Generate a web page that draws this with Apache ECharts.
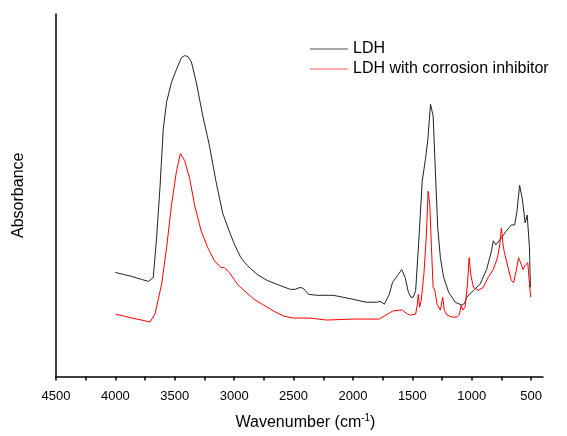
<!DOCTYPE html>
<html>
<head>
<meta charset="utf-8">
<script src="https://cdn.jsdelivr.net/npm/echarts@6/dist/echarts.min.js"></script>
<style>
html,body{margin:0;padding:0;background:#fff;}
#chart{width:567px;height:436px;}
</style>
</head>
<body>
<div id="chart"></div>
<script>
// Series names
const seriesNames = ['LDH', 'LDH with corrosion inhibitor'];

// LDH spectrum (wavenumber, absorbance a.u.)
const ldhWavenumbers = [4000,3930,3861,3780,3722,3708,3681,3653,3625,3597,3569,3528,3486,3444,3417,3389,3361,3319,3264,3208,3153,3097,3042,3000,2944,2889,2806,2722,2639,2528,2486,2444,2420,2403,2375,2306,2167,2083,2000,1889,1792,1772,1736,1694,1667,1625,1589,1561,1533,1511,1492,1472,1444,1417,1389,1369,1347,1325,1306,1286,1264,1236,1194,1139,1083,1060,1042,986,931,875,833,819,797,750,708,667,639,619,597,575,550,533,522,514,506];
const ldhValues = [105,103,101,98,96,95,100,140,190,250,277,297,310,322,324,323,318,297,263,233,197,165,147,134,120,112,103,97,93,88,88,90,89,87,83,82,82,80,78,75,75,76,73,83,95,102,108,100,85,80,80,87,140,197,220,240,275,263,207,150,120,100,85,75,72,74,80,87,93,108,127,137,133,140,147,153,153,167,193,180,155,163,162,130,90];

// LDH with corrosion inhibitor spectrum
const inhWavenumbers = [4000,3930,3861,3780,3708,3667,3611,3569,3528,3486,3453,3417,3375,3333,3278,3222,3167,3111,3083,3069,3042,3000,2972,2917,2833,2750,2667,2583,2500,2361,2222,2000,1778,1722,1667,1611,1583,1542,1514,1472,1458,1450,1439,1425,1403,1383,1367,1353,1339,1325,1311,1292,1264,1244,1231,1208,1167,1125,1103,1089,1075,1056,1036,1022,1008,986,944,903,861,819,783,764,750,736,728,694,667,647,625,606,583,569,550,528,514,503];
const inhValues = [63,61,59,57,55,63,93,130,173,207,225,218,200,173,147,130,117,110,110,111,105,98,93,87,78,72,66,61,59,59,57,58,58,62,66,67,67,63,62,63,73,83,70,77,103,140,187,173,130,90,87,73,67,80,67,62,60,60,63,72,67,70,93,120,103,90,87,90,100,108,120,133,150,133,127,110,97,95,107,120,113,108,112,115,93,80];

// Axis ticks / labels
const xLabelValues = [4500,4000,3500,3000,2500,2000,1500,1000,500];
const xTickValues = [4500,4250,4000,3750,3500,3250,3000,2750,2500,2250,2000,1750,1500,1250,1000,750,500];

const zip = (xs, ys) => xs.map((x, i) => [x, ys[i]]);
const FONT = 'Liberation Sans, Arial, sans-serif';

const chart = echarts.init(document.getElementById('chart'), null, {renderer: 'canvas'});
chart.setOption({
  animation: false,
  backgroundColor: '#ffffff',
  grid: {left: 56, right: 24, top: 14, bottom: 56},
  legend: {
    orient: 'vertical',
    left: 305, top: 36,
    icon: 'rect',
    itemWidth: 38, itemHeight: 1.2, itemGap: 4,
    textStyle: {fontFamily: FONT, fontSize: 16, color: '#000', lineHeight: 16},
    data: [
      {name: seriesNames[0], itemStyle: {color: '#555'}},
      {name: seriesNames[1], itemStyle: {color: '#ff5a5a'}}
    ]
  },
  xAxis: {
    type: 'value',
    min: 400, max: 4500,
    inverse: true,
    name: 'Wavenumber (cm{sup|-1})',
    nameLocation: 'middle',
    nameGap: 37,
    nameTextStyle: {
      fontFamily: FONT, fontSize: 16, color: '#000', padding: [0, 0, 0, 12],
      rich: {sup: {fontFamily: FONT, fontSize: 10, color: '#000', padding: [0, 0, 9, 0]}}
    },
    axisLine: {show: true, lineStyle: {color: '#000', width: 1.5}},
    axisTick: {show: true, inside: false, length: 4, customValues: xTickValues, lineStyle: {color: '#000', width: 1.5}},
    axisLabel: {customValues: xLabelValues, margin: 13, fontFamily: FONT, fontSize: 13, color: '#000', formatter: v => String(v)},
    splitLine: {show: false}
  },
  yAxis: {
    type: 'value',
    min: 0, max: 366,
    name: 'Absorbance',
    nameLocation: 'middle',
    nameGap: 29,
    nameTextStyle: {fontFamily: FONT, fontSize: 16, color: '#000'},
    axisLine: {show: true, lineStyle: {color: '#000', width: 1.5}},
    axisTick: {show: false},
    axisLabel: {show: false},
    splitLine: {show: false}
  },
  series: [
    {
      name: seriesNames[0], type: 'line', symbol: 'none',
      data: zip(ldhWavenumbers, ldhValues),
      lineStyle: {color: '#222', width: 1},
      itemStyle: {color: '#222'}
    },
    {
      name: seriesNames[1], type: 'line', symbol: 'none',
      data: zip(inhWavenumbers, inhValues),
      lineStyle: {color: '#ff0000', width: 1},
      itemStyle: {color: '#ff0000'}
    }
  ]
});
</script>
</body>
</html>
